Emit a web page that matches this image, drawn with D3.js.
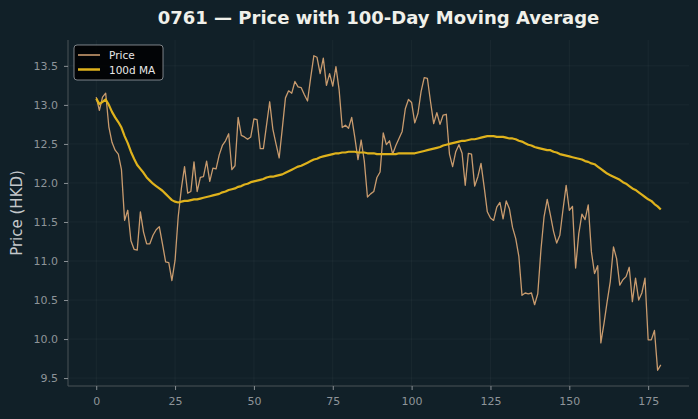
<!DOCTYPE html>
<html><head><meta charset="utf-8">
<script src="https://cdn.jsdelivr.net/npm/d3@7"></script>
<style>
html,body{margin:0;padding:0;background:#112028;}
svg{display:block;}
</style></head>
<body>
<script>
const title = "0761 — Price with 100-Day Moving Average";
const yLabel = "Price (HKD)";
const xTicks = [0,25,50,75,100,125,150,175];
const yTicks = [9.5,10.0,10.5,11.0,11.5,12.0,12.5,13.0,13.5];
const price = [
13.10,12.93,13.10,13.15,12.72,12.52,12.42,12.37,12.17,11.52,
11.65,11.26,11.15,11.14,11.63,11.37,11.22,11.22,11.33,11.40,
11.44,11.22,10.99,10.98,10.75,11.01,11.57,11.93,12.21,11.87,
11.89,12.27,11.89,12.07,12.08,12.28,12.02,12.19,12.18,12.36,
12.48,12.54,12.63,12.17,12.22,12.84,12.61,12.59,12.56,12.59,
12.82,12.81,12.44,12.44,12.74,13.04,12.69,12.50,12.32,12.70,
13.09,13.18,13.15,13.30,13.23,13.22,13.13,13.05,13.35,13.63,
13.61,13.40,13.60,13.25,13.40,13.24,13.49,13.20,12.71,12.74,
12.70,12.84,12.58,12.30,12.55,12.28,11.82,11.86,11.89,12.07,
12.14,12.64,12.49,12.54,12.37,12.48,12.57,12.66,12.95,13.07,
13.03,12.77,12.89,13.17,13.35,13.34,13.04,12.76,12.90,12.75,
12.87,12.88,12.37,12.21,12.40,12.49,12.38,11.97,12.38,12.37,
11.96,12.08,12.25,11.95,11.63,11.55,11.52,11.69,11.75,11.54,
11.77,11.67,11.43,11.29,11.06,10.56,10.59,10.58,10.59,10.44,
10.58,11.14,11.57,11.79,11.59,11.38,11.23,11.33,11.66,11.97,
11.65,11.70,10.91,11.35,11.60,11.53,11.72,11.12,10.84,10.94,
9.95,10.20,10.48,10.74,11.18,11.03,10.69,10.76,10.80,10.92,
10.48,10.78,10.50,10.59,10.78,9.99,9.99,10.11,9.60,9.67
];
const ma100 = [
13.08,13.01,13.04,13.07,13.00,12.91,12.84,12.78,12.71,12.60,
12.51,12.40,12.31,12.23,12.18,12.13,12.07,12.03,11.99,11.96,
11.93,11.90,11.86,11.82,11.78,11.76,11.75,11.76,11.77,11.77,
11.78,11.79,11.79,11.80,11.81,11.82,11.83,11.84,11.85,11.86,
11.88,11.89,11.91,11.92,11.93,11.95,11.96,11.98,11.99,12.01,
12.02,12.03,12.04,12.05,12.07,12.08,12.08,12.09,12.10,12.11,
12.13,12.15,12.17,12.19,12.21,12.22,12.24,12.26,12.28,12.30,
12.31,12.33,12.34,12.35,12.36,12.37,12.38,12.38,12.39,12.39,
12.40,12.40,12.40,12.39,12.39,12.39,12.38,12.38,12.38,12.37,
12.37,12.37,12.37,12.37,12.37,12.37,12.38,12.38,12.38,12.38,
12.38,12.38,12.39,12.40,12.41,12.42,12.43,12.44,12.45,12.46,
12.48,12.49,12.50,12.51,12.52,12.53,12.54,12.54,12.55,12.56,
12.56,12.57,12.58,12.59,12.60,12.60,12.60,12.59,12.59,12.59,
12.58,12.57,12.57,12.56,12.54,12.53,12.51,12.49,12.48,12.46,
12.45,12.44,12.43,12.42,12.42,12.40,12.39,12.37,12.36,12.35,
12.34,12.33,12.32,12.31,12.30,12.28,12.27,12.25,12.24,12.21,
12.18,12.15,12.12,12.10,12.08,12.06,12.04,12.01,11.99,11.96,
11.93,11.91,11.88,11.85,11.82,11.79,11.77,11.73,11.70,11.66
];
const seriesNames = ["Price","100d MA"];

const W = 698, H = 419;
const m = {left:68, right:9, top:40, bottom:33};
const svg = d3.select("body").append("svg").attr("width",W).attr("height",H);
svg.append("rect").attr("width",W).attr("height",H).attr("fill","#112028");

const n = price.length;
const pad = (n-1)*0.05;
const x = d3.scaleLinear().domain([-pad, n-1+pad]).range([m.left, W-m.right]);
const ymin = d3.min(price.concat(ma100)), ymax = d3.max(price.concat(ma100));
const yp = (ymax-ymin)*0.05;
const y = d3.scaleLinear().domain([ymin-yp, ymax+yp]).range([H-m.bottom, m.top]);

const font = "DejaVu Sans, sans-serif";
// grid
const g = svg.append("g");
g.selectAll(".gx").data(xTicks).enter().append("line")
  .attr("x1",d=>x(d)).attr("x2",d=>x(d)).attr("y1",m.top).attr("y2",H-m.bottom)
  .attr("stroke","#ffffff").attr("stroke-opacity",0.05).attr("stroke-width",0.8);
g.selectAll(".gy").data(yTicks).enter().append("line")
  .attr("y1",d=>y(d)).attr("y2",d=>y(d)).attr("x1",m.left).attr("x2",W-m.right)
  .attr("stroke","#ffffff").attr("stroke-opacity",0.05).attr("stroke-width",0.8);

// axes
const xAxis = svg.append("g").attr("transform",`translate(0,${H-m.bottom})`)
  .call(d3.axisBottom(x).tickValues(xTicks).tickSize(4).tickPadding(7).tickFormat(d3.format("d")));
const yAxis = svg.append("g").attr("transform",`translate(${m.left},0)`)
  .call(d3.axisLeft(y).tickValues(yTicks).tickSize(4).tickPadding(6).tickFormat(d3.format(".1f")));
[xAxis,yAxis].forEach(a=>{
  a.select(".domain").attr("stroke","#4a5257").attr("stroke-width",1);
  a.selectAll(".tick line").attr("stroke","#8a9095");
  a.selectAll(".tick text").attr("fill","#8e9499").attr("font-family",font).attr("font-size",11);
});
xAxis.select(".domain").attr("d",`M${m.left},0H${W-m.right}`);
yAxis.select(".domain").attr("d",`M0,${m.top}V${H-m.bottom}`);

// lines
const line = d3.line().x((d,i)=>x(i)).y(d=>y(d));
svg.append("path").datum(price).attr("d",line).attr("fill","none")
  .attr("stroke","#c99b6e").attr("stroke-width",1.3).attr("stroke-linejoin","round");
svg.append("path").datum(ma100).attr("d",line).attr("fill","none")
  .attr("stroke","#dfb21c").attr("stroke-width",2.2).attr("stroke-linejoin","round");

// title
svg.append("text").attr("x",(m.left+W-m.right)/2).attr("y",24).attr("text-anchor","middle")
  .attr("fill","#f0f0ea").attr("font-family",font).attr("font-weight","bold").attr("font-size",18)
  .text(title);
// y label
svg.append("text").attr("transform",`translate(22,${(m.top+H-m.bottom)/2}) rotate(-90)`)
  .attr("text-anchor","middle").attr("fill","#c4c8cb").attr("font-family",font).attr("font-size",15)
  .text(yLabel);

// legend
const lg = svg.append("g").attr("transform","translate(74,45)");
lg.append("rect").attr("width",89).attr("height",35).attr("rx",3)
  .attr("fill","#000000").attr("fill-opacity",0.85).attr("stroke","#9aa0a4").attr("stroke-width",0.8);
const colors = ["#c99b6e","#dfb21c"], widths=[1.3,2.2];
seriesNames.forEach((s,i)=>{
  const yy = 10 + i*14.5;
  lg.append("line").attr("x1",4).attr("x2",26).attr("y1",yy).attr("y2",yy)
    .attr("stroke",colors[i]).attr("stroke-width",widths[i]+0.3);
  lg.append("text").attr("x",35).attr("y",yy+4).attr("fill","#e8e8e8")
    .attr("font-family",font).attr("font-size",10.5).text(s);
});
</script>
</body></html>
